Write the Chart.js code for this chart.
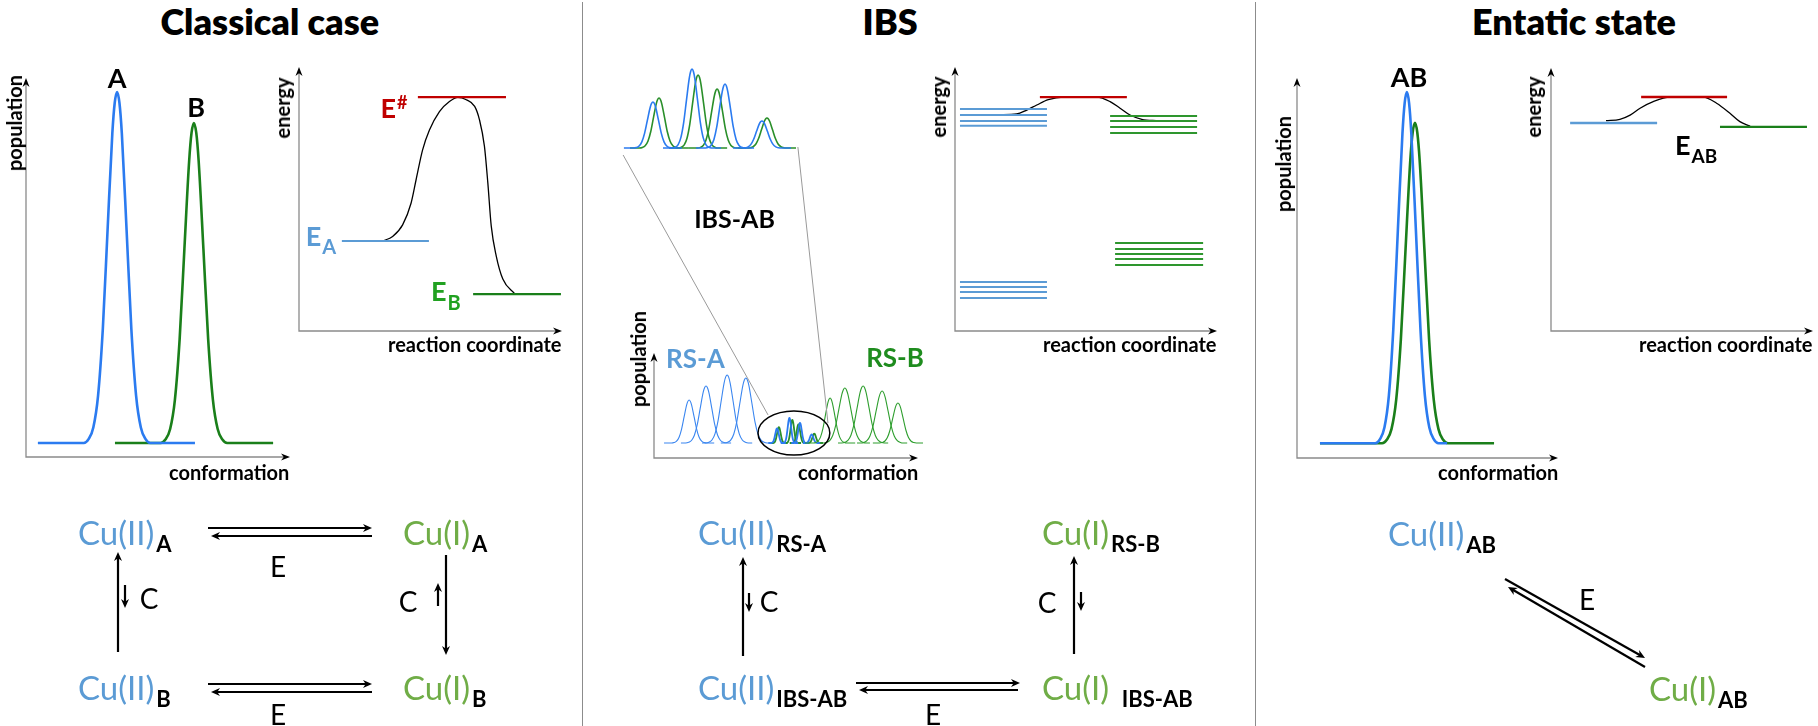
<!DOCTYPE html>
<html>
<head>
<meta charset="utf-8">
<title>Classical case / IBS / Entatic state</title>
<script src="https://cdn.jsdelivr.net/npm/chart.js@4.4.1/dist/chart.umd.min.js"></script>
<style>
  html, body { margin: 0; padding: 0; background: #fff; }
  #page { position: relative; width: 1818px; height: 726px; overflow: hidden; font-family: Lato, 'Open Sans', sans-serif; }
  #page canvas { position: absolute; }
  .lbl { position: absolute; white-space: nowrap; line-height: 1; font-weight: 700; color: #000; }
  .ttl { font-weight: 800; }
  .sep { position: absolute; top: 2px; width: 1px; height: 724px; background: #8c8c8c; }
</style>
</head>
<body>
<div id="page">
  <div class="sep" style="left:582px"></div>
  <div class="sep" style="left:1255px"></div>
</div>
<script>
// ===== DATA (every plot uses 0..100 along its drawn axes) =====

// Classical case: population vs conformation
const classicalA = [[4.5,3.7],[21.9,3.7],[23.7,4.7],[25.5,7.8],[27.3,16.2],[29.1,33.8],[30.9,59.9],[32.7,85.4],[33.6,93.4],[34.5,96.3],[35.4,93.4],[36.3,85.4],[38.1,59.9],[39.9,33.8],[41.7,16.2],[43.5,7.8],[45.3,4.7],[47.1,3.7],[64.0,3.7]];
const classicalB = [[33.7,3.7],[51.0,3.7],[52.8,4.6],[54.6,7.4],[56.4,15.1],[58.2,31.1],[60.0,54.9],[61.8,78.1],[62.7,85.5],[63.6,88.1],[64.5,85.5],[65.4,78.1],[67.2,54.9],[69.0,31.1],[70.8,15.1],[72.6,7.4],[74.4,4.6],[76.2,3.7],[93.6,3.7]];

// Classical case: energy vs reaction coordinate
const classicalPath = [[31.8,34.1],[35.6,35.8],[39.4,40.2],[42.6,48.4],[44.5,57.2],[47.0,68.6],[49.6,76.1],[53.4,83.1],[57.2,86.9],[60.4,88.5],[63.6,87.6],[66.8,85.1],[68.6,80.1],[70.5,70.0],[71.8,56.1],[73.1,39.7],[75.0,28.4],[77.5,19.7],[82.1,14.0]];
const classicalLevelY    = [34.1, 88.6, 14.0];   // E_A, E#, E_B
const classicalLevelFrom = [16.3, 45.2, 66.2];
const classicalLevelTo   = [49.4, 78.7, 99.6];

// IBS: reference states in the conformation plot (peak position, peak top, width)
const rsAPos    = [13.3, 19.7, 27.7, 34.8];
const rsAHeight = [55.2, 68.6, 79.0, 76.2];
const rsAWidth  = [1.9, 2.2, 2.3, 2.3];
const rsBPos    = [66.7, 72.3, 79.2, 86.4, 92.4];
const rsBHeight = [57.1, 66.7, 68.6, 63.8, 52.4];
const rsBWidth  = [1.8, 2.3, 2.3, 2.3, 2.0];
const rsBase = 14.3;

// IBS-AB ensemble: magnified copy (top) and in place (inside the ellipse)
const zoomBluePos     = [-0.4, 14.4, 26.9, 40.9];
const zoomBlueHeight  = [339.0, 370.5, 356.2, 321.0];
const zoomGreenPos    = [1.9, 16.7, 23.9, 42.8];
const zoomGreenHeight = [342.9, 364.8, 351.4, 323.8];
const zoomBase = 295.2;
const inBluePos     = [46.6, 51.3, 55.3, 59.7];
const inBlueHeight  = [28.1, 38.1, 33.5, 22.4];
const inGreenPos    = [47.3, 52.4, 54.7, 60.7];
const inGreenHeight = [29.5, 36.2, 32.0, 23.3];
const inBase = 14.3;
const zoomLines = [[[-11.7,288.6],[43.2,41.0]], [[54.5,296.2],[65.9,33.3]]];

// IBS: energy levels
const ibsPath = [[16.9,81.9],[23.5,82.2],[27.4,83.7],[31.2,85.6],[35.6,87.6],[41.3,88.6],[54.1,88.6],[59.2,86.9],[63.0,84.4],[66.8,81.8],[71.3,80.2],[77.6,79.6]];
const ibsBlueHigh  = [84.1, 81.8, 79.5, 77.7];
const ibsBlueLow   = [18.6, 16.7, 14.8, 12.5];
const ibsGreenHigh = [81.4, 79.5, 77.3, 75.0];
const ibsGreenLow  = [33.3, 31.1, 29.2, 27.3, 25.0];
const ibsTS = 88.6;

// Entatic state: population vs conformation
const entaticA = [[8.8,3.9],[30.0,3.9],[31.75,4.9],[33.5,8.0],[35.2,16.4],[36.9,33.9],[38.65,60.0],[40.4,85.4],[41.25,93.4],[42.1,96.3],[42.95,93.4],[43.8,85.4],[45.55,60.0],[47.3,33.9],[49.0,16.4],[50.7,8.0],[52.45,4.9],[54.2,3.9],[57.5,3.9]];
const entaticB = [[8.8,3.9],[32.6,3.9],[34.4,4.8],[36.2,7.6],[38.0,15.3],[39.8,31.3],[41.6,55.1],[43.4,78.3],[44.3,85.6],[45.2,88.2],[46.1,85.6],[47.0,78.3],[48.8,55.1],[50.6,31.3],[52.4,15.3],[54.2,7.6],[56.0,4.8],[57.8,3.9],[75.5,3.9]];

// Entatic state: energy
const entaticPath = [[21.0,80.0],[26.3,80.5],[30.2,82.1],[34.0,84.7],[39.0,87.2],[45.4,88.9],[58.1,88.9],[63.2,86.6],[68.3,82.8],[72.1,79.6],[76.0,77.9]];
const entaticLevelY    = [79.1, 89.0, 77.6];
const entaticLevelFrom = [7.3, 34.4, 64.5];
const entaticLevelTo   = [40.5, 67.2, 97.7];

const bellProfile = [[-3.5,0],[-3,0.011],[-2.5,0.044],[-2,0.135],[-1.5,0.325],[-1,0.607],[-0.5,0.882],[-0.25,0.969],[0,1],[0.25,0.969],[0.5,0.882],[1,0.607],[1.5,0.325],[2,0.135],[2.5,0.044],[3,0.011],[3.5,0]];

// Reaction schemes (page pixels)
const schemeMain = ['Cu(II)','Cu(I)','Cu(II)','Cu(I)','Cu(II)','Cu(I)','Cu(II)','Cu(I)','Cu(II)','Cu(I)'];
const schemeSub  = ['A','A','B','B','RS-A','RS-B','IBS-AB','  IBS-AB','AB','AB'];
const schemeX    = [78, 403, 78, 403, 698, 1042, 698, 1042, 1388, 1649];
const schemeY    = [545, 545, 700, 700, 545, 545, 700, 700, 546, 701];
const schemeArrows = [
  [208,528,372,528],[372,536,211,536],[208,684,372,684],[372,692,211,692],
  [118,652,118,552],[125,585,125,608],[446,555,446,655],[438,606,438,583],
  [743,656,743,557],[749,593,749,612],[1074,654,1074,556],[1081,592,1081,611],
  [856,683,1020,683],[1018,690,859,690],
  [1505,579,1645,658],[1645,667,1508,587]
];
const schemeLetters = ['E','E','C','C','C','C','E','E'];
const schemeLetterX = [278, 278, 149, 408, 769, 1047, 933, 1587];
const schemeLetterY = [567, 715, 599, 602, 602, 603, 715, 600];

// ===== COLOURS =====
const BLUE = '#2B7BF0', GREEN = '#1A7F1A';
const LBLUE = '#5B9BD5', LGREEN = '#70AD47', LVGREEN = '#2E962E', RED = '#C00000';

const PAGE = document.getElementById('page');

// ===== HELPERS =====
function rangesFor(axis, box) {
  return {
    xMin: (box.l - axis.l) / axis.w * 100,
    xMax: (box.l + box.w - axis.l) / axis.w * 100,
    yMin: (axis.t + axis.h - (box.t + box.h)) / axis.h * 100,
    yMax: (axis.t + axis.h - box.t) / axis.h * 100
  };
}

function makeChart(box, r, datasets, draw, reverseY) {
  const c = document.createElement('canvas');
  c.width = box.w; c.height = box.h;
  c.style.left = box.l + 'px'; c.style.top = box.t + 'px';
  c.style.width = box.w + 'px'; c.style.height = box.h + 'px';
  PAGE.appendChild(c);
  return new Chart(c.getContext('2d'), {
    type: 'scatter',
    data: { datasets },
    options: {
      responsive: false,
      animation: false,
      events: [],
      layout: { padding: 0 },
      scales: {
        x: { type: 'linear', display: false, min: r.xMin, max: r.xMax },
        y: { type: 'linear', display: false, min: r.yMin, max: r.yMax, reverse: !!reverseY }
      },
      plugins: { legend: { display: false }, tooltip: { enabled: false } },
      elements: { point: { radius: 0 } }
    },
    plugins: [{
      id: 'extras',
      afterDatasetsDraw(chart) {
        if (!draw) return;
        const X = v => chart.scales.x.getPixelForValue(v);
        const Y = v => chart.scales.y.getPixelForValue(v);
        chart.ctx.save();
        draw(chart.ctx, X, Y);
        chart.ctx.restore();
      }
    }]
  });
}

function curve(points, color, width, smooth) {
  return {
    data: points.map(p => ({ x: p[0], y: p[1] })),
    showLine: true, borderColor: color, borderWidth: width,
    pointRadius: 0, fill: false,
    cubicInterpolationMode: smooth ? 'monotone' : 'default', tension: 0
  };
}

function level(y, from, to, color, width) {
  return curve([[from, y], [to, y]], color, width || 2.2, false);
}

function bell(pos, top, width, base, extent) {
  const pts = [[pos - extent, base]];
  bellProfile.forEach(([u, f]) => pts.push([pos + u * width, base + f * (top - base)]));
  pts.push([pos + extent, base]);
  return pts;
}

function arrowHead(ctx, x, y, dx, dy, len, half) {
  const n = Math.hypot(dx, dy); dx /= n; dy /= n;
  const bx = x - dx * len, by = y - dy * len;
  ctx.fillStyle = '#000';
  ctx.beginPath();
  ctx.moveTo(x, y);
  ctx.lineTo(bx - dy * half, by + dx * half);
  ctx.lineTo(x - dx * len * 0.7, y - dy * len * 0.7);
  ctx.lineTo(bx + dy * half, by - dx * half);
  ctx.closePath();
  ctx.fill();
}

function drawAxes(ctx, X, Y) {
  const ox = X(0), oy = Y(0), tx = X(100), ty = Y(100);
  ctx.strokeStyle = '#8a8a8a';
  ctx.lineWidth = 1.3;
  ctx.beginPath();
  ctx.moveTo(ox, ty + 3); ctx.lineTo(ox, oy); ctx.lineTo(tx - 3, oy);
  ctx.stroke();
  arrowHead(ctx, ox, ty, 0, -1, 9, 3.5);
  arrowHead(ctx, tx, oy, 1, 0, 9, 3.5);
}

function text(ctx, s, x, y, font, color, align) {
  ctx.font = font;
  ctx.fillStyle = color;
  ctx.textAlign = align || 'left';
  ctx.textBaseline = 'alphabetic';
  ctx.fillText(s, x, y);
  return ctx.measureText(s).width;
}

function subText(ctx, main, sub, x, y, size, subSize, dy, color) {
  const w = text(ctx, main, x, y, 'bold ' + size + 'px Lato', color);
  text(ctx, sub, x + w + 1, y + dy, 'bold ' + subSize + 'px Lato', color);
}

function pageLabel(s, x, base, size, align, cls) {
  const d = document.createElement('div');
  d.className = 'lbl' + (cls ? ' ' + cls : '');
  d.style.fontSize = size + 'px';
  d.textContent = s;
  const m = document.createElement('span');
  m.style.cssText = 'display:inline-block;width:0;height:0;vertical-align:baseline';
  d.appendChild(m);
  PAGE.appendChild(d);
  const w = d.offsetWidth;
  d.style.left = (align === 'center' ? x - w / 2 : align === 'right' ? x - w : x) + 'px';
  d.style.top = (base - m.offsetTop) + 'px';
}

function pageLabelV(s, cx, cy, size) {
  const d = document.createElement('div');
  d.className = 'lbl';
  d.style.fontSize = size + 'px';
  d.textContent = s;
  d.style.left = cx + 'px';
  d.style.top = cy + 'px';
  d.style.transform = 'translate(-50%,-50%) rotate(-90deg)';
  PAGE.appendChild(d);
}

// ===== CLASSICAL: POPULATION =====
{
  const axis = { l: 26, t: 78, w: 264, h: 379 };
  const box = { l: 12, t: 60, w: 290, h: 410 };
  makeChart(box, rangesFor(axis, box), [
    curve(classicalA, BLUE, 2.6, true),
    curve(classicalB, GREEN, 2.6, true)
  ], (ctx, X, Y) => {
    drawAxes(ctx, X, Y);
    text(ctx, 'A', X(34.5), Y(97.4), 'bold 27px Lato', '#000', 'center');
    text(ctx, 'B', X(64.4), Y(89.7), 'bold 27px Lato', '#000', 'center');
  });
}

// ===== CLASSICAL: ENERGY =====
{
  const axis = { l: 299, t: 67, w: 263, h: 264 };
  const box = { l: 292, t: 52, w: 280, h: 290 };
  const colors = [LBLUE, RED, GREEN];
  const ds = classicalLevelY.map((y, i) => level(y, classicalLevelFrom[i], classicalLevelTo[i], colors[i], 2.2));
  ds.push(curve(classicalPath, '#000', 1.3, true));
  makeChart(box, rangesFor(axis, box), ds, (ctx, X, Y) => {
    drawAxes(ctx, X, Y);
    const w = text(ctx, 'E', X(31.0), Y(80.6), 'bold 27px Lato', RED);
    text(ctx, '#', X(31.0) + w + 1, Y(80.6) - 9, 'bold 18px Lato', RED);
    subText(ctx, 'E', 'A', X(2.6), Y(32.2), 27, 20, 8, LBLUE);
    subText(ctx, 'E', 'B', X(50.2), Y(11.4), 27, 20, 9, '#21A121');
  });
}

// ===== IBS: CONFORMATION (with magnified IBS-AB ensemble) =====
{
  const axis = { l: 654, t: 353, w: 264, h: 105 };
  const box = { l: 600, t: 50, w: 345, h: 430 };
  const ds = [];
  zoomLines.forEach(l => ds.push(curve(l, '#9a9a9a', 1, false)));
  rsAPos.forEach((p, i) => ds.push(curve(bell(p, rsAHeight[i], rsAWidth[i], rsBase, 9.5), '#3A86F0', 1.1, true)));
  rsBPos.forEach((p, i) => ds.push(curve(bell(p, rsBHeight[i], rsBWidth[i], rsBase, 9.5), '#2E9E2E', 1.1, true)));
  zoomBluePos.forEach((p, i) => ds.push(curve(bell(p, zoomBlueHeight[i], 2.1, zoomBase, 11), BLUE, 1.6, true)));
  zoomGreenPos.forEach((p, i) => ds.push(curve(bell(p, zoomGreenHeight[i], 2.1, zoomBase, 11), '#2A8F2A', 1.6, true)));
  inBluePos.forEach((p, i) => ds.push(curve(bell(p, inBlueHeight[i], 0.67, inBase, 3.3), BLUE, 1.8, true)));
  inGreenPos.forEach((p, i) => ds.push(curve(bell(p, inGreenHeight[i], 0.67, inBase, 3.3), '#2A8F2A', 1.8, true)));
  makeChart(box, rangesFor(axis, box), ds, (ctx, X, Y) => {
    drawAxes(ctx, X, Y);
    ctx.strokeStyle = '#000';
    ctx.lineWidth = 1.5;
    ctx.beginPath();
    ctx.ellipse(X(53.0), Y(23.8), X(53.0 + 13.6) - X(53.0), Y(23.8) - Y(23.8 + 21), 0, 0, Math.PI * 2);
    ctx.stroke();
    text(ctx, 'IBS-AB', X(30.5), Y(219), 'bold 25px Lato', '#000', 'center');
    text(ctx, 'RS-A', X(15.7), Y(85.7), 'bold 26px Lato', LBLUE, 'center');
    text(ctx, 'RS-B', X(91.3), Y(86.7), 'bold 26px Lato', '#1E8C1E', 'center');
  });
}

// ===== IBS: ENERGY =====
{
  const axis = { l: 955, t: 67, w: 262, h: 264 };
  const box = { l: 945, t: 52, w: 282, h: 290 };
  const ds = [];
  ibsBlueHigh.forEach(y => ds.push(level(y, 1.9, 35.1, LBLUE, 2)));
  ibsBlueLow.forEach(y => ds.push(level(y, 1.9, 35.1, LBLUE, 2)));
  ibsGreenHigh.forEach(y => ds.push(level(y, 59.2, 92.4, LVGREEN, 2)));
  ibsGreenLow.forEach(y => ds.push(level(y, 61.1, 94.7, LVGREEN, 2)));
  ds.push(level(ibsTS, 32.4, 65.6, RED, 2.4));
  ds.push(curve(ibsPath, '#000', 1.3, true));
  makeChart(box, rangesFor(axis, box), ds, (ctx, X, Y) => drawAxes(ctx, X, Y));
}

// ===== ENTATIC: POPULATION =====
{
  const axis = { l: 1297, t: 78, w: 261, h: 380 };
  const box = { l: 1283, t: 60, w: 290, h: 410 };
  makeChart(box, rangesFor(axis, box), [
    curve(entaticA, BLUE, 2.6, true),
    curve(entaticB, GREEN, 2.6, true)
  ], (ctx, X, Y) => {
    drawAxes(ctx, X, Y);
    text(ctx, 'AB', X(42.9), Y(97.6), 'bold 27px Lato', '#000', 'center');
  });
}

// ===== ENTATIC: ENERGY =====
{
  const axis = { l: 1551, t: 68, w: 262, h: 263 };
  const box = { l: 1543, t: 52, w: 275, h: 290 };
  const colors = [LBLUE, RED, GREEN];
  const ds = entaticLevelY.map((y, i) => level(y, entaticLevelFrom[i], entaticLevelTo[i], colors[i], 2.4));
  ds.push(curve(entaticPath, '#000', 1.3, true));
  makeChart(box, rangesFor(axis, box), ds, (ctx, X, Y) => {
    drawAxes(ctx, X, Y);
    subText(ctx, 'E', 'AB', X(47.3), Y(66.9), 27, 19, 8, '#000');
  });
}

// ===== REACTION SCHEMES =====
{
  const box = { l: 0, t: 490, w: 1818, h: 236 };
  makeChart(box, { xMin: 0, xMax: 1818, yMin: 490, yMax: 726 }, [], (ctx, X, Y) => {
    schemeMain.forEach((s, i) => {
      const w = text(ctx, s, X(schemeX[i]), Y(schemeY[i]), '33px Lato', s === 'Cu(II)' ? LBLUE : LGREEN);
      text(ctx, schemeSub[i], X(schemeX[i]) + w + 2, Y(schemeY[i]) + 7, 'bold 22px Lato', '#000');
    });
    ctx.strokeStyle = '#000';
    ctx.lineWidth = 2.2;
    schemeArrows.forEach(([x1, y1, x2, y2]) => {
      const dx = X(x2) - X(x1), dy = Y(y2) - Y(y1), n = Math.hypot(dx, dy);
      ctx.beginPath();
      ctx.moveTo(X(x1), Y(y1));
      ctx.lineTo(X(x2) - dx / n * 5, Y(y2) - dy / n * 5);
      ctx.stroke();
      arrowHead(ctx, X(x2), Y(y2), dx, dy, 9, 4);
    });
    schemeLetters.forEach((s, i) => {
      text(ctx, s, X(schemeLetterX[i]), Y(schemeLetterY[i]) + 10, '28px Lato', '#000', 'center');
    });
  }, true);
}

// ===== TITLES AND AXIS LABELS =====
pageLabel('Classical case', 270, 35, 36, 'center', 'ttl');
pageLabel('IBS', 890, 35, 36, 'center', 'ttl');
pageLabel('Entatic state', 1574, 35, 36, 'center', 'ttl');

pageLabel('conformation', 289, 480, 20, 'right');
pageLabel('conformation', 918, 480, 20, 'right');
pageLabel('conformation', 1558, 480, 20, 'right');
pageLabel('reaction coordinate', 562, 352, 20, 'right');
pageLabel('reaction coordinate', 1217, 352, 20, 'right');
pageLabel('reaction coordinate', 1813, 352, 20, 'right');

pageLabelV('population', 14, 123, 20);
pageLabelV('population', 638, 359, 20);
pageLabelV('population', 1283, 164, 20);
pageLabelV('energy', 282, 108, 20);
pageLabelV('energy', 938, 107, 20);
pageLabelV('energy', 1533, 107, 20);
</script>
</body>
</html>
